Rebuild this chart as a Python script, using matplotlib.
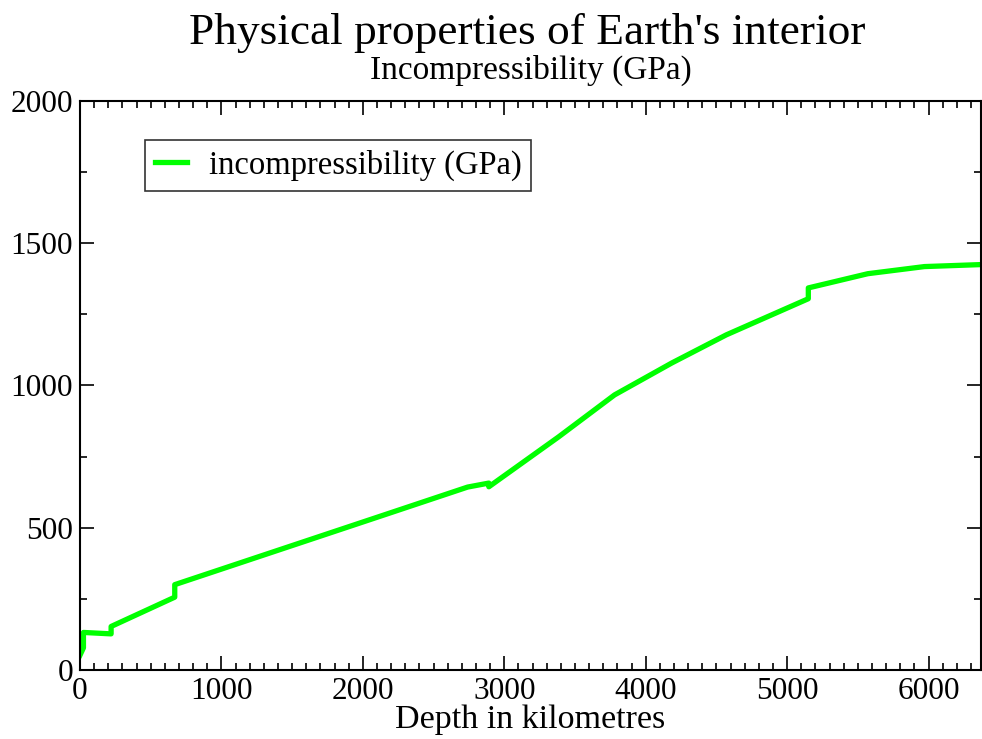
import matplotlib
matplotlib.use("Agg")
import matplotlib.pyplot as plt
from matplotlib.ticker import MultipleLocator

# profundidad (km) y modulo de incompresibilidad (GPa)
depth = [0, 24.4, 24.4, 220, 220, 670, 670, 2150, 2741, 2891, 2891,
         3383, 3780, 4184, 4570, 5150, 5150, 5571, 5971, 6371]
incomp = [52, 78, 132, 127, 153, 256, 300, 545, 643, 657, 644,
          819, 967, 1079, 1178, 1305, 1343, 1393, 1418, 1425]

plt.rcParams["font.family"] = ["Liberation Serif", "DejaVu Serif"]

fig = plt.figure(figsize=(9.82, 7.39), dpi=100)
ax = fig.add_axes([80 / 982, 69 / 739, 901 / 982, 569 / 739])

ax.plot(depth, incomp, color="#00ff00", linewidth=3.8, label="incompressibility (GPa)")

ax.set_xlim(0, 6371)
ax.set_ylim(0, 2000)
ax.xaxis.set_major_locator(MultipleLocator(1000))
ax.xaxis.set_minor_locator(MultipleLocator(100))
ax.yaxis.set_major_locator(MultipleLocator(500))
ax.yaxis.set_minor_locator(MultipleLocator(250))
ax.tick_params(which="both", direction="in", top=True, right=True, labelsize=22.5, width=1.2, pad=5)
ax.tick_params(which="major", length=10)
ax.tick_params(which="minor", length=5)
for s in ax.spines.values():
    s.set_linewidth(1.5)

ax.set_xlabel("Depth in kilometres", fontsize=24.5, labelpad=-1)

fig.text(0.537, 0.956, "Physical properties of Earth's interior", ha="center", va="center", fontsize=32.7)
fig.text(0.541, 0.905, "Incompressibility (GPa)", ha="center", va="center", fontsize=24)

leg = ax.legend(loc="upper left", bbox_to_anchor=(0.072, 0.932), fontsize=23.5, frameon=True,
                fancybox=False, handlelength=1.0, borderpad=0.3, handletextpad=0.65,
                borderaxespad=0)
leg.get_frame().set_edgecolor("black")
leg.get_frame().set_linewidth(1.2)

fig.savefig("out.png", dpi=100)
